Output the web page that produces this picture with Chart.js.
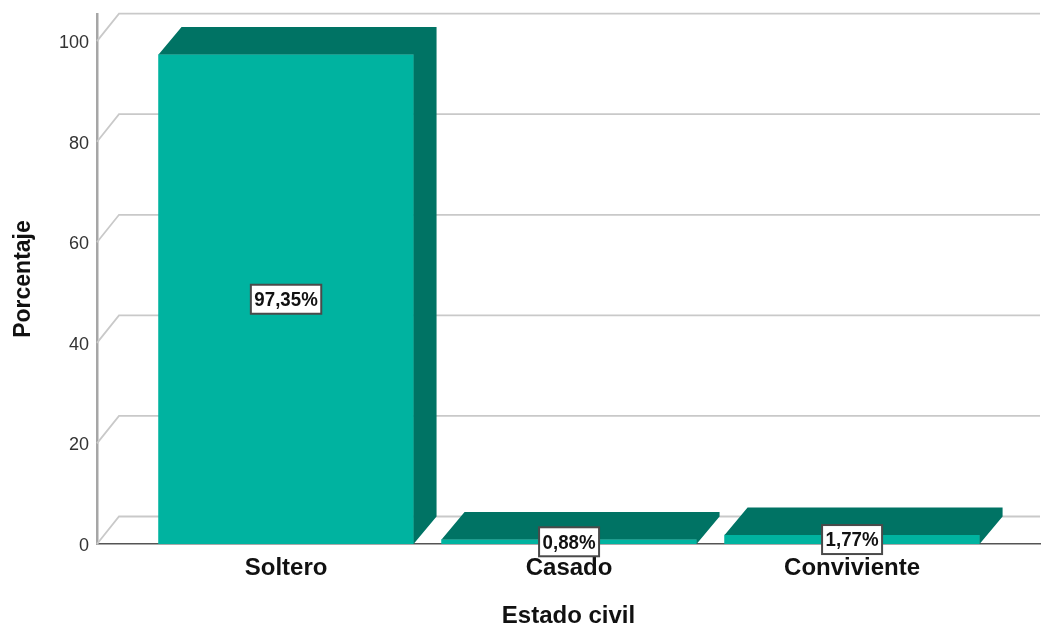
<!DOCTYPE html>
<html>
<head>
<meta charset="utf-8">
<style>html,body{margin:0;padding:0;background:#fff}#wrap{width:1050px;height:625px}</style>
<script src="https://cdn.jsdelivr.net/npm/chart.js@4"></script>
</head>
<body>
<div id="wrap"><canvas id="c" width="1050" height="625"></canvas></div>
<script>
const categories = ['Soltero', 'Casado', 'Conviviente'];
const percentages = [97.35, 0.88, 1.77];
const yTicks = [0, 20, 40, 60, 80, 100];
const xTitle = 'Estado civil';
const yTitle = 'Porcentaje';
const FRONT = '#00b3a0', DARK = '#007364', GRID = '#c9c9c9';
const DX = 22, BAR_DX = 23, DY = 27.5;
const SANS = '"Liberation Sans", Arial, sans-serif';

const fmt = v => v.toFixed(2).replace('.', ',') + '%';

const depth = {
  id: 'depth',
  beforeDatasetsDraw(chart) {
    const { ctx, scales: { x, y } } = chart;
    ctx.save();
    ctx.strokeStyle = GRID;
    ctx.lineWidth = 1.8;
    yTicks.forEach(t => {
      const py = y.getPixelForValue(t);
      ctx.beginPath();
      ctx.moveTo(x.left, py);
      ctx.lineTo(x.left + DX, py - DY);
      ctx.lineTo(x.right, py - DY);
      ctx.stroke();
    });
    ctx.restore();
  },
  afterDatasetsDraw(chart) {
    const { ctx } = chart;
    const bars = chart.getDatasetMeta(0).data;
    ctx.save();
    bars.forEach(b => {
      const l = b.x - b.width / 2, r = b.x + b.width / 2;
      ctx.fillStyle = DARK;
      ctx.beginPath();
      ctx.moveTo(l, b.y);
      ctx.lineTo(l + BAR_DX, b.y - DY);
      ctx.lineTo(r + BAR_DX, b.y - DY);
      ctx.lineTo(r + BAR_DX, b.base - DY);
      ctx.lineTo(r, b.base);
      ctx.lineTo(r, b.y);
      ctx.closePath();
      ctx.fill();
    });
    ctx.font = 'bold 21px ' + SANS;
    ctx.textAlign = 'center';
    ctx.textBaseline = 'middle';
    bars.forEach((b, i) => {
      const s = fmt(percentages[i]);
      const tw = ctx.measureText(s).width * 0.89;
      const w = tw + 7, h = 29;
      const cy = (b.y + b.base) / 2;
      ctx.fillStyle = '#fff';
      ctx.fillRect(b.x - w / 2, cy - h / 2, w, h);
      ctx.strokeStyle = '#4a4a4a';
      ctx.lineWidth = 2;
      ctx.strokeRect(b.x - w / 2, cy - h / 2, w, h);
      ctx.fillStyle = '#111';
      ctx.fillText(s, b.x, cy + 1, tw);
    });
    ctx.restore();
  }
};

new Chart(document.getElementById('c'), {
  type: 'bar',
  data: {
    datasets: [{
      data: percentages.map((v, i) => ({ x: i, y: v })),
      backgroundColor: FRONT,
      borderWidth: 0,
      barThickness: 255
    }]
  },
  plugins: [depth],
  options: {
    responsive: false,
    animation: false,
    devicePixelRatio: 1,
    layout: { padding: { top: 14, right: 10, left: 0, bottom: 0 } },
    plugins: { legend: { display: false }, tooltip: { enabled: false } },
    scales: {
      x: {
        type: 'linear',
        offset: false,
        min: -0.668,
        max: 2.664,
        grid: { display: false, drawTicks: false },
        border: { display: true, color: '#555', width: 1.5 },
        afterBuildTicks: s => { s.ticks = categories.map((_, i) => ({ value: i })); },
        afterFit: s => { s.height = 81; s.paddingLeft = 0; s.paddingRight = 0; },
        ticks: {
          autoSkip: false, maxRotation: 0, padding: 10,
          color: '#111',
          font: { family: SANS, size: 24, weight: 'bold' },
          callback: v => categories[v]
        },
        title: {
          display: true, text: xTitle, color: '#111',
          font: { family: SANS, size: 24, weight: 'bold', lineHeight: 0.7 },
          padding: { top: 0, bottom: 0 }
        }
      },
      y: {
        min: 0,
        max: 105.4,
        grid: { display: false, drawTicks: false },
        border: { display: true, color: '#a6a6a6', width: 2.5 },
        afterBuildTicks: s => { s.ticks = yTicks.map(v => ({ value: v })); },
        afterFit: s => { s.width = 97; s.paddingTop = 0; s.paddingBottom = 0; },
        ticks: {
          padding: 8, color: '#333', labelOffset: 2,
          font: { family: SANS, size: 18 }
        },
        title: {
          display: true, text: yTitle, color: '#111',
          font: { family: SANS, size: 23, weight: 'bold' },
          padding: { top: 10, bottom: 0 }
        }
      }
    }
  }
});
</script>
</body>
</html>
